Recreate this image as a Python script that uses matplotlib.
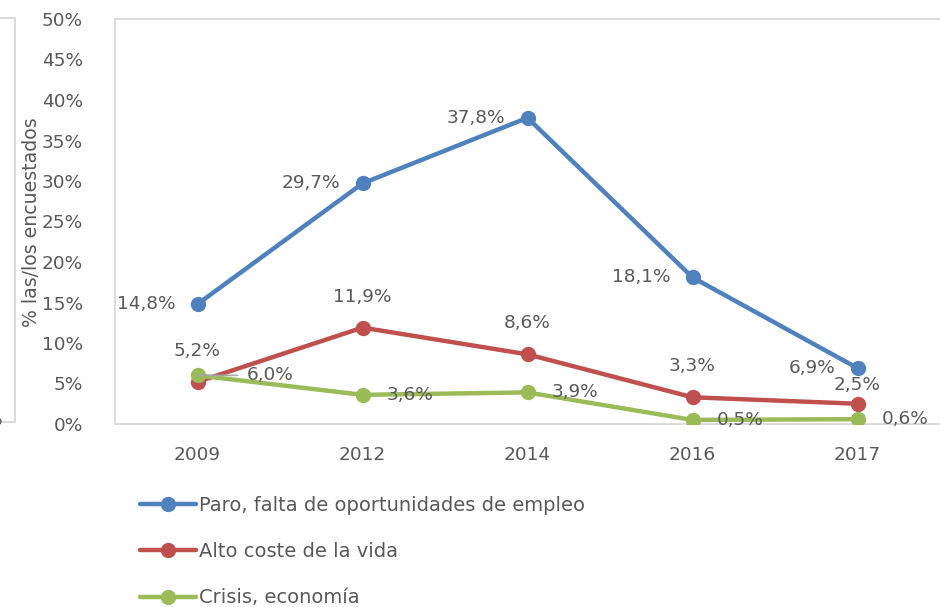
"""Preocupaciones de las/los encuestados por año."""

import matplotlib

matplotlib.use("Agg")
import matplotlib.pyplot as plt
from matplotlib.lines import Line2D
from matplotlib.ticker import FuncFormatter

anos = ["2009", "2012", "2014", "2016", "2017"]
paro = [14.8, 29.7, 37.8, 18.1, 6.9]
coste_vida = [5.2, 11.9, 8.6, 3.3, 2.5]
crisis = [6.0, 3.6, 3.9, 0.5, 0.6]
nombres = [
    "Paro, falta de oportunidades de empleo",
    "Alto coste de la vida",
    "Crisis, economía",
]

colores = ["#4F81BD", "#C0504D", "#9BBB59"]
gris_texto = "#595959"
gris_borde = "#D9D9D9"
TAM = 13.3

plt.rcParams["font.family"] = ["DejaVu Sans"]
ANCHO, ALTO = 940, 607


def fx(px):
    return px / ANCHO


def fy(py):
    return 1 - py / ALTO


def etiqueta(valor):
    return f"{valor:.1f}".replace(".", ",") + "%"


figura = plt.figure(figsize=(9.4, 6.07), dpi=100)
eixo = figura.add_axes([fx(115), fy(424), fx(940) - fx(115), fy(19) - fy(424)])

posicoes = list(range(len(anos)))
series = [paro, coste_vida, crisis]
for i, (valores, nome, cor) in enumerate(zip(series, nombres, colores)):
    eixo.plot(
        posicoes, valores, color=cor, lw=3.2, marker="o", ms=10,
        label=nome, zorder=3 + i, solid_capstyle="round",
    )

# etiquetas de datos: azul a la izquierda, rojo encima, verde a la derecha
for p, v in zip(posicoes, paro):
    eixo.annotate(etiqueta(v), (p, v), xytext=(-22, 0), textcoords="offset pixels",
                  ha="right", va="center", fontsize=TAM, color=gris_texto)
for p, v in zip(posicoes, coste_vida):
    dy = 19 if p == len(posicoes) - 1 else 31
    eixo.annotate(etiqueta(v), (p, v), xytext=(0, dy), textcoords="offset pixels",
                  ha="center", va="center", fontsize=TAM, color=gris_texto)
for p, v in zip(posicoes, crisis):
    dx = 49 if p == 0 else 24
    eixo.annotate(etiqueta(v), (p, v), xytext=(dx, 0), textcoords="offset pixels",
                  ha="left", va="center", fontsize=TAM, color=gris_texto, zorder=7)
# línea guía de la primera etiqueta verde
eixo.annotate("", (posicoes[0], crisis[0]), xytext=(40, 0), textcoords="offset pixels",
              arrowprops=dict(arrowstyle="-", color="#A6A6A6", lw=1.2,
                              shrinkA=0, shrinkB=0), zorder=6)

eixo.set_xlim(-0.5, len(anos) - 0.5)
eixo.set_ylim(0, 50)
eixo.set_yticks(range(0, 51, 5))
eixo.yaxis.set_major_formatter(FuncFormatter(lambda v, _: f"{v:.0f}%"))
eixo.set_xticks(posicoes, anos)
eixo.tick_params(axis="both", length=0, labelsize=TAM, colors=gris_texto)
eixo.tick_params(axis="y", pad=23)
eixo.tick_params(axis="x", pad=16)
for lado in ["left", "top", "bottom"]:
    eixo.spines[lado].set_color(gris_borde)
    eixo.spines[lado].set_linewidth(1.3)
eixo.spines["right"].set_visible(False)

figura.text(fx(32), fy(222), "% las/los encuestados", rotation=90,
            ha="center", va="center", fontsize=13.6, color=gris_texto)

figura.legend(
    loc="upper left", bbox_to_anchor=(fx(140), fy(496)), frameon=False,
    fontsize=14, labelcolor=gris_texto, handlelength=2.9, handletextpad=0.15,
    labelspacing=1.4, borderpad=0, borderaxespad=0,
)

# trozo del gráfico vecino que asoma por la izquierda
figura.add_artist(Line2D([0, fx(15), fx(15), 0], [fy(18), fy(18), fy(422), fy(422)],
                         color=gris_borde, lw=1.3, transform=figura.transFigure))
figura.text(fx(3), fy(420), "%", ha="right", va="center", fontsize=TAM,
            color=gris_texto)

figura.savefig("out.png", dpi=100)
plt.close(figura)
